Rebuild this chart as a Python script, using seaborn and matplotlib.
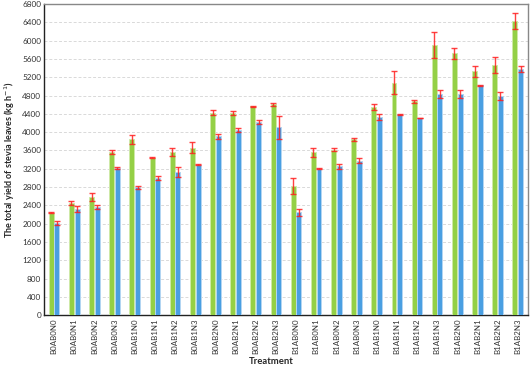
import pandas as pd
import numpy as np
import matplotlib
matplotlib.use("Agg")
import matplotlib.pyplot as plt
import seaborn as sns

# Treatments and yields (kg/ha)
treatments = [
    "B0AB0N0", "B0AB0N1", "B0AB0N2", "B0AB0N3",
    "B0AB1N0", "B0AB1N1", "B0AB1N2", "B0AB1N3",
    "B0AB2N0", "B0AB2N1", "B0AB2N2", "B0AB2N3",
    "B1AB0N0", "B1AB0N1", "B1AB0N2", "B1AB0N3",
    "B1AB1N0", "B1AB1N1", "B1AB1N2", "B1AB1N3",
    "B1AB2N0", "B1AB2N1", "B1AB2N2", "B1AB2N3",
]
green_vals = [2240, 2450, 2590, 3560, 3840, 3440, 3560, 3660,
              4420, 4420, 4570, 4610, 2820, 3560, 3620, 3840,
              4550, 5080, 4670, 5910, 5720, 5330, 5470, 6430]
green_err = [12, 50, 85, 40, 100, 12, 85, 115,
             55, 35, 12, 30, 170, 100, 30, 35,
             70, 255, 40, 280, 125, 120, 175, 165]
blue_vals = [2020, 2320, 2360, 3210, 2790, 3000, 3120, 3290,
             3910, 4050, 4220, 4110, 2245, 3200, 3250, 3380,
             4330, 4390, 4310, 4840, 4840, 5020, 4790, 5380]
blue_err = [40, 75, 50, 25, 40, 50, 110, 10,
            50, 45, 35, 250, 75, 10, 50, 50,
            70, 10, 10, 90, 90, 10, 85, 70]
series = ["Series 1", "Series 2"]
yticks = list(range(0, 6801, 400))

df = pd.DataFrame({
    "Treatment": treatments * 2,
    "Yield": green_vals + blue_vals,
    "Err": green_err + blue_err,
    "Series": [series[0]] * len(treatments) + [series[1]] * len(treatments),
})

sns.set_style("white")
plt.rcParams["font.family"] = ["Lato", "DejaVu Sans"]

fig = plt.figure(figsize=(5.30, 3.69), dpi=100)
ax = fig.add_axes([0.083, 0.146, 0.913, 0.843])

palette = {series[0]: "#94d046", series[1]: "#4a9fe2"}
sns.barplot(data=df, x="Treatment", y="Yield", hue="Series", order=treatments,
            hue_order=series, palette=palette, width=0.56, gap=0.12,
            errorbar=None, legend=False, saturation=1, ax=ax, zorder=3)

# soft light outline round each bar
edge = {series[0]: "#cfeaa8", series[1]: "#b3d6f3"}
n = len(treatments)
for i, p in enumerate(ax.patches[:2 * n]):
    p.set_edgecolor(edge[series[i // n]])
    p.set_linewidth(0.7)

# error bars at the bar centres
for i, p in enumerate(ax.patches[:2 * n]):
    s = i // n
    k = i % n
    err = (green_err if s == 0 else blue_err)[k]
    xc = p.get_x() + p.get_width() / 2
    ax.errorbar(xc, p.get_height(), yerr=err, fmt="none", ecolor="#ff2020",
                elinewidth=1.0, capsize=2.4, capthick=1.0, alpha=0.85, zorder=4)

ax.set_ylim(0, 6800)
ax.set_xlim(-0.5, n - 0.5)
ax.set_yticks(yticks)
ax.set_yticklabels([str(v) for v in yticks], fontsize=5.9, color="#333333")
ax.set_xticks(range(n))
ax.set_xticklabels(treatments, rotation=90, fontsize=5.7, color="#333333")
ax.tick_params(axis="both", length=0, pad=2)
ax.yaxis.grid(True, linestyle=(0, (3, 2)), color="#d9d9d9", linewidth=0.7, zorder=0)
ax.xaxis.grid(False)

for side in ["left", "bottom"]:
    ax.spines[side].set_color("#222222")
    ax.spines[side].set_linewidth(1.0)
for side in ["top", "right"]:
    ax.spines[side].set_color("#888888")
    ax.spines[side].set_linewidth(1.0)

ax.set_ylabel("The total yield of stevia leaves (kg h$^{-1}$)", fontsize=6.5,
              fontweight="bold", labelpad=4)
ax.set_xlabel("Treatment", fontsize=6.8, fontweight="bold")
ax.xaxis.set_label_coords(0.47, -0.135)

fig.savefig("out.png", dpi=100)
